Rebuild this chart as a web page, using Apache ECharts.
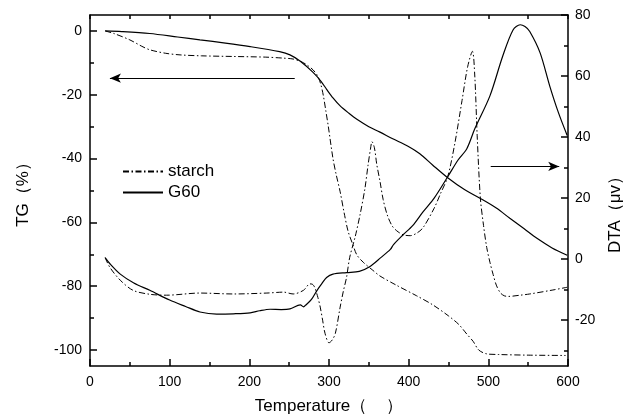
<!DOCTYPE html>
<html>
<head>
<meta charset="utf-8">
<script src="https://cdn.jsdelivr.net/npm/echarts@6/dist/echarts.min.js"></script>
<style>html,body{margin:0;padding:0;background:#fff}#c{width:636px;height:420px}</style>
</head>
<body>
<div id="c"></div>
<script>
// ---- data ----
const tgStarchX = [19,30,50,65,75,95,113,140,180,220,242,255,265,272,280,286,290,293,296,299,305,309,314,319,324,330,335,343,355,364,384,410,430,450,463,473,481,488,498,513,550,597];
const tgStarchY = [0,-0.8,-2.8,-4.8,-5.9,-7,-7.5,-7.8,-8,-8.2,-8.5,-8.8,-9.6,-10.6,-12.2,-14.2,-17,-20.4,-25,-29.7,-40,-45,-50.4,-57,-62.8,-67,-70.2,-72.5,-75,-76.8,-79.6,-83,-85.8,-89.3,-92,-95,-97.3,-100,-101.2,-101.4,-101.6,-101.7];
const tgG60X = [19,40,75,110,138,170,201,238,251,264,280,290,297,305,314,325,335,350,364,380,398,414,430,449,470,490,510,527,545,561,580,599];
const tgG60Y = [0,-0.2,-0.8,-1.9,-2.8,-3.8,-4.9,-6.5,-7.5,-9.5,-13,-15.8,-18.3,-21,-23.5,-25.8,-27.7,-30,-31.7,-33.8,-36,-38.5,-42,-46,-49.7,-52.5,-55.5,-58.7,-62,-65,-68,-70.3];
const dtaStarchX = [19,25,38,54,75,96,138,180,222,243,255,268,276,279,282,286,289,292,295,300,304,308,314,318,322,326,333,339,345,349,352,354,357,360,364,368,373,379,385,393,402,410,418,432,440,449,458,467,474,480,483,486,490,494,498,502,506,510,515,520,525,540,552,581,599];
const dtaStarchY = [0.5,-2.7,-6.9,-10.2,-11.5,-11.8,-11.1,-11.4,-11.1,-10.8,-11.4,-10.2,-8.1,-8.2,-9.2,-12.5,-15.7,-20,-24.3,-27.4,-26.5,-24.3,-15.7,-10.5,-6,0.6,7.5,14.6,23,30.8,36,38.5,36.5,31,25.5,19.5,14.6,11,9.3,8,7.7,8.5,10.3,16.7,21.5,27,38,52,63,68.1,60,40.4,20,11,3.8,-1,-5,-8.5,-11,-12,-12.2,-11.8,-11.4,-10.1,-9.2];
const dtaG60X = [19,25,38,55,75,100,120,138,159,180,201,213,226,240,251,264,268,271,278,285,291,297,305,322,338,351,365,377,381,393,405,418,432,449,462,473,483,502,518,531,540,546,552,565,577,588,599];
const dtaG60Y = [0.5,-1.5,-4.9,-7.8,-10.2,-13.4,-15.5,-17.3,-18,-17.9,-17.6,-16.9,-16.4,-16.5,-16.3,-15,-15.6,-15,-13.2,-10.2,-8,-6,-4.9,-4.4,-4,-2.5,0.5,3.2,4.8,8,11,15.5,20,27,32.5,36.2,42.7,53.5,66.5,75.1,76.8,76.2,74.6,67.6,56.8,48,40.5];
const seriesNames = ['starch', 'G60'];
const tgTicks = [-100,-80,-60,-40,-20,0];
const tgMinor = [-90,-70,-50,-30,-10];
const dtaTicks = [-20,0,20,40,60,80];
const dtaMinor = [-30,-10,10,30,50,70];
// annotation arrows [from, to] in data units
const tgArrow = [[257,-14.8],[25,-14.8]];
const dtaArrow = [[503,30.4],[589,30.4]];

const zip = (xs, ys) => xs.map((x, i) => [x, ys[i]]);
const FONT = "'Liberation Sans', Arial, sans-serif";
const black = '#000';
const dashDot = [6, 2.5, 1.5, 2.5];

const chart = echarts.init(document.getElementById('c'), null, {renderer: 'canvas'});
const lineAxis = {show: true, onZero: false, lineStyle: {color: black, width: 1.5}};
const noLine = {show: false, onZero: false};

const arrowMark = (seg) => ({
  silent: true, symbol: ['none', 'arrow'], symbolSize: [7, 11],
  label: {show: false}, emphasis: {disabled: true},
  lineStyle: {color: black, width: 1, type: 'solid'},
  animation: false,
  data: [[{coord: seg[0]}, {coord: seg[1]}]]
});

chart.setOption({
  animation: false,
  backgroundColor: '#fff',
  textStyle: {fontFamily: FONT, color: black},
  grid: {left: 90, right: 68, top: 15, bottom: 51, containLabel: false},
  legend: {
    orient: 'vertical', left: 117, top: 158, itemWidth: 40, itemHeight: 14, itemGap: 4,
    itemStyle: {opacity: 0, borderWidth: 0},
    textStyle: {fontSize: 17, color: black, fontFamily: FONT},
    data: seriesNames
  },
  xAxis: [
    {type: 'value', position: 'bottom', min: 0, max: 600, interval: 100,
     axisLine: lineAxis, axisTick: {inside: true, length: 7, lineStyle: {color: black, width: 1.5}},
     axisLabel: {fontSize: 14, color: black, margin: 9, fontFamily: FONT},
     splitLine: {show: false},
     name: 'Temperature（    ）', nameLocation: 'middle', nameGap: 32,
     nameTextStyle: {fontSize: 17, color: black, fontFamily: FONT}},
    {type: 'value', position: 'bottom', min: 0, max: 600, interval: 50,
     axisLine: noLine, axisTick: {inside: true, length: 4, lineStyle: {color: black, width: 1.5}},
     axisLabel: {show: false}, splitLine: {show: false}},
    {type: 'value', position: 'top', min: 0, max: 600, interval: 50,
     axisLine: lineAxis, axisTick: {inside: true, length: 4, lineStyle: {color: black, width: 1.5}},
     axisLabel: {show: false}, splitLine: {show: false}}
  ],
  yAxis: [
    {type: 'value', position: 'left', min: -105, max: 5,
     axisLine: lineAxis,
     axisTick: {inside: true, length: 7, customValues: tgTicks, lineStyle: {color: black, width: 1.5}},
     axisLabel: {fontSize: 14, color: black, margin: 8, customValues: tgTicks, fontFamily: FONT},
     splitLine: {show: false},
     name: 'TG（%）', nameLocation: 'middle', nameGap: 58,
     nameTextStyle: {fontSize: 17, color: black, fontFamily: FONT}},
    {type: 'value', position: 'left', min: -105, max: 5,
     axisLine: noLine,
     axisTick: {inside: true, length: 4, customValues: tgMinor, lineStyle: {color: black, width: 1.5}},
     axisLabel: {show: false}, splitLine: {show: false}},
    {type: 'value', position: 'right', min: -35, max: 80,
     axisLine: lineAxis,
     axisTick: {inside: true, length: 7, customValues: dtaTicks, lineStyle: {color: black, width: 1.5}},
     axisLabel: {fontSize: 14, color: black, margin: 7, customValues: dtaTicks, fontFamily: FONT},
     splitLine: {show: false},
     name: 'DTA（μv）', nameLocation: 'middle', nameGap: 39,
     nameTextStyle: {fontSize: 17, color: black, fontFamily: FONT, padding: [0, 40, 0, 0]}},
    {type: 'value', position: 'right', min: -35, max: 80,
     axisLine: noLine,
     axisTick: {inside: true, length: 4, customValues: dtaMinor, lineStyle: {color: black, width: 1.5}},
     axisLabel: {show: false}, splitLine: {show: false}}
  ],
  series: [
    {name: seriesNames[0], type: 'line', xAxisIndex: 0, yAxisIndex: 0, data: zip(tgStarchX, tgStarchY),
     symbol: 'none', smooth: 0.3, lineStyle: {color: black, width: 1, type: dashDot}, itemStyle: {color: black}},
    {name: seriesNames[1], type: 'line', xAxisIndex: 0, yAxisIndex: 0, data: zip(tgG60X, tgG60Y),
     symbol: 'none', smooth: 0.3, lineStyle: {color: black, width: 1.2, type: 'solid'}, itemStyle: {color: black},
     markLine: arrowMark(tgArrow)},
    {name: seriesNames[0], type: 'line', xAxisIndex: 0, yAxisIndex: 2, data: zip(dtaStarchX, dtaStarchY),
     symbol: 'none', smooth: 0.3, lineStyle: {color: black, width: 1, type: dashDot}, itemStyle: {color: black}},
    {name: seriesNames[1], type: 'line', xAxisIndex: 0, yAxisIndex: 2, data: zip(dtaG60X, dtaG60Y),
     symbol: 'none', smooth: 0.3, lineStyle: {color: black, width: 1.2, type: 'solid'}, itemStyle: {color: black},
     markLine: arrowMark(dtaArrow)}
  ]
});
</script>
</body>
</html>
